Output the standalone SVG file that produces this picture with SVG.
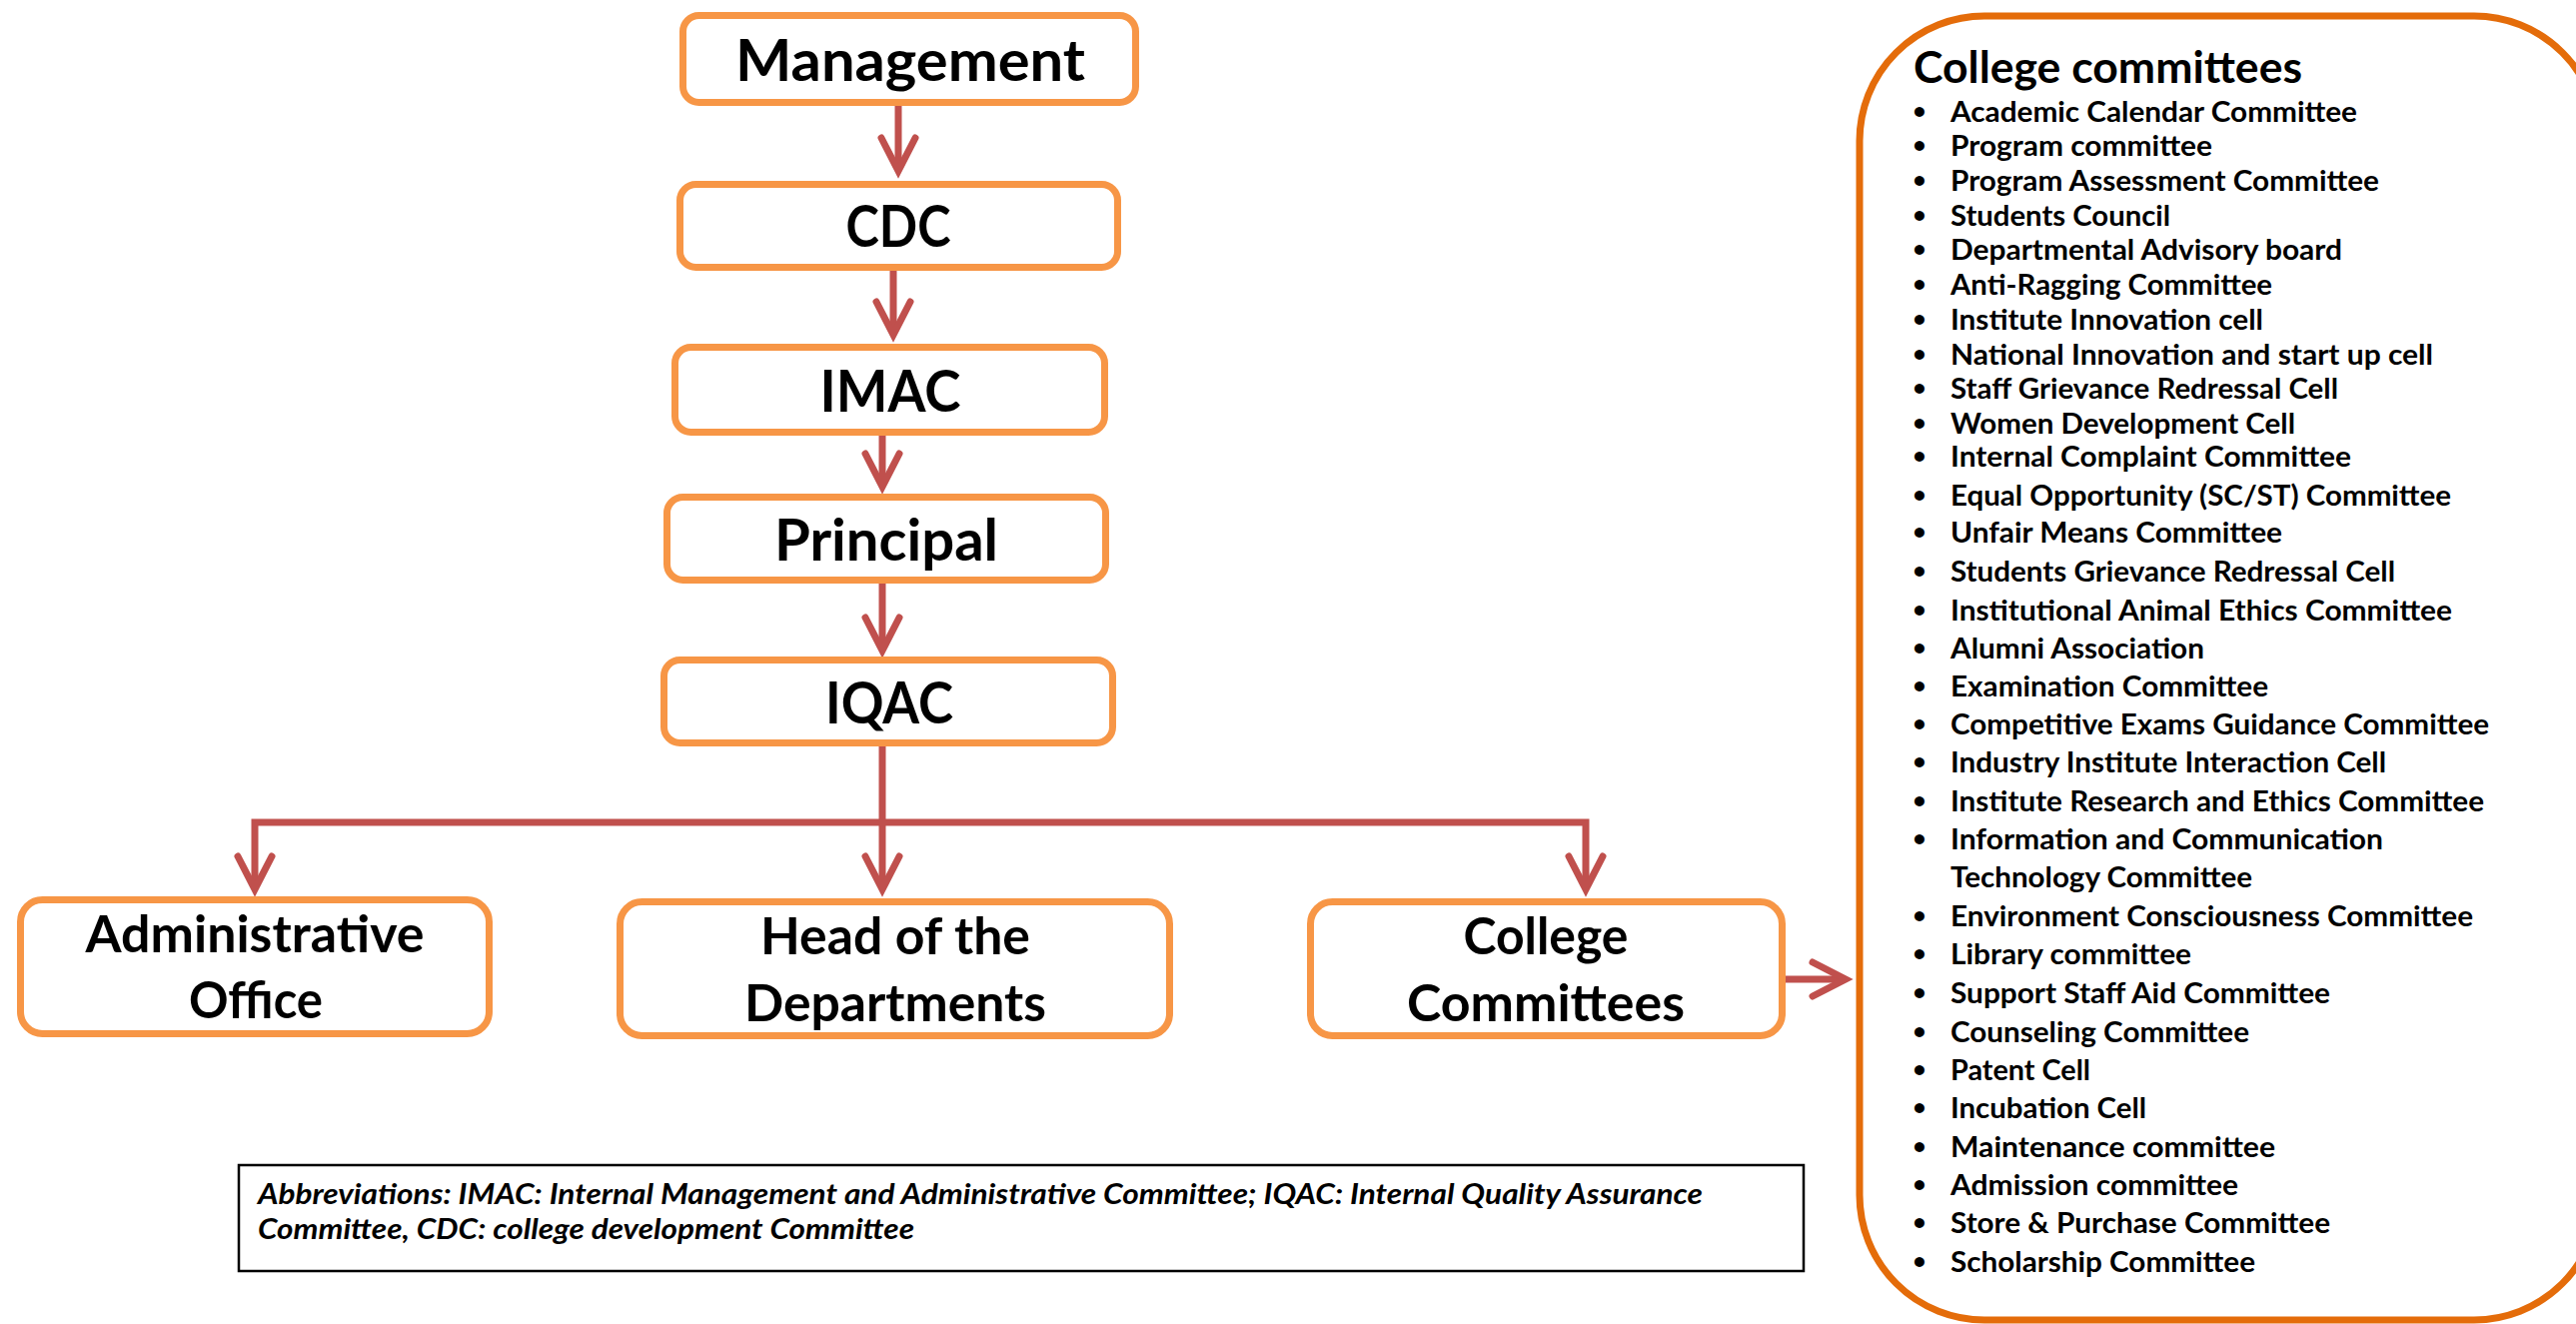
<svg xmlns="http://www.w3.org/2000/svg" width="2578" height="1325" viewBox="0 0 2578 1325">
<defs>
<style>
.node{fill:#fff;stroke:#F79646;stroke-width:7}
.t1{font-family:Lato,"Open Sans","Liberation Sans",sans-serif;font-weight:bold;font-size:57px;fill:#000;text-anchor:middle}
.t2{font-family:Lato,"Open Sans","Liberation Sans",sans-serif;font-weight:bold;font-size:51px;fill:#000;text-anchor:middle}
.conn{fill:none;stroke:#C0504D;stroke-width:7}
.ttl{font-family:Lato,"Open Sans","Liberation Sans",sans-serif;font-weight:bold;font-size:43px;fill:#000}
.li{font-family:Lato,"Open Sans","Liberation Sans",sans-serif;font-weight:bold;font-size:28px;fill:#000}
.bu{font-family:Lato,"Open Sans","Liberation Sans",sans-serif;font-weight:bold;font-size:23px;fill:#000;text-anchor:middle}
.ab{font-family:Lato,"Open Sans","Liberation Sans",sans-serif;font-weight:bold;font-style:italic;font-size:28px;fill:#000}
</style>
<marker id="ah" markerUnits="userSpaceOnUse" markerWidth="80" markerHeight="80" viewBox="-40 -40 80 80" refX="0" refY="0" orient="auto" overflow="visible">
<path d="M-33,-17 L0,0 L-33,17" fill="none" stroke="#C0504D" stroke-width="7" stroke-linecap="round" stroke-linejoin="miter"/>
</marker>
</defs>
<rect width="2578" height="1325" fill="#fff"/>

<g id="connectors">
<path class="conn" d="M899,106 V171" marker-end="url(#ah)"/>
<path class="conn" d="M894,271 V335" marker-end="url(#ah)"/>
<path class="conn" d="M883,436 V487" marker-end="url(#ah)"/>
<path class="conn" d="M883,584 V651" marker-end="url(#ah)"/>
<path class="conn" d="M883,747 V823"/>
<path class="conn" d="M883,823 H255 V890" marker-end="url(#ah)"/>
<path class="conn" d="M883,823 V890" marker-end="url(#ah)"/>
<path class="conn" d="M883,823 H1587 V890" marker-end="url(#ah)"/>
<path class="conn" d="M1787,980 H1847" marker-end="url(#ah)"/>
</g>

<g id="management">
<rect class="node" x="683.5" y="15.5" width="453" height="87" rx="16"/>
<text class="t1" x="911" y="81" textLength="350" lengthAdjust="spacingAndGlyphs">Management</text>
</g>
<g id="cdc">
<rect class="node" x="680.5" y="184.5" width="438" height="83" rx="16"/>
<text class="t1" x="899" y="247" textLength="105" lengthAdjust="spacingAndGlyphs">CDC</text>
</g>
<g id="imac">
<rect class="node" x="675.5" y="347.5" width="430" height="85" rx="16"/>
<text class="t1" x="891" y="412" textLength="141" lengthAdjust="spacingAndGlyphs">IMAC</text>
</g>
<g id="principal">
<rect class="node" x="667.5" y="497.5" width="439" height="83" rx="16"/>
<text class="t1" x="887" y="561" textLength="224" lengthAdjust="spacingAndGlyphs">Principal</text>
</g>
<g id="iqac">
<rect class="node" x="664.5" y="660.5" width="449" height="83" rx="16"/>
<text class="t1" x="890" y="724" textLength="128" lengthAdjust="spacingAndGlyphs">IQAC</text>
</g>
<g id="administrative-office">
<rect class="node" x="20.5" y="900.5" width="469" height="134" rx="22"/>
<text class="t2" x="255" y="953" textLength="339" lengthAdjust="spacingAndGlyphs">Administrative</text>
<text class="t2" x="256" y="1019" textLength="134" lengthAdjust="spacingAndGlyphs">Office</text>
</g>
<g id="head-of-departments">
<rect class="node" x="620.5" y="902.5" width="550" height="134" rx="22"/>
<text class="t2" x="896" y="955" textLength="270" lengthAdjust="spacingAndGlyphs">Head of the</text>
<text class="t2" x="896" y="1022" textLength="302" lengthAdjust="spacingAndGlyphs">Departments</text>
</g>
<g id="college-committees-node">
<rect class="node" x="1311.5" y="902.5" width="472" height="134" rx="22"/>
<text class="t2" x="1547" y="955" textLength="165" lengthAdjust="spacingAndGlyphs">College</text>
<text class="t2" x="1547" y="1022" textLength="278" lengthAdjust="spacingAndGlyphs">Committees</text>
</g>

<g id="abbreviations">
<rect x="239" y="1166" width="1566" height="106" fill="#fff" stroke="#000" stroke-width="2.5"/>
<text class="ab" x="258" y="1205" textLength="1446" lengthAdjust="spacingAndGlyphs">Abbreviations: IMAC: Internal Management and Administrative Committee; IQAC: Internal Quality Assurance</text>
<text class="ab" x="258" y="1240" textLength="657" lengthAdjust="spacingAndGlyphs">Committee, CDC: college development Committee</text>
</g>

<g id="college-committees-list">
<rect x="1861" y="16" width="740" height="1305" rx="125" fill="#fff" stroke="#E46C0A" stroke-width="7"/>
<text class="ttl" x="1915" y="83" textLength="389" lengthAdjust="spacingAndGlyphs">College committees</text>
<g class="bu" transform="translate(0,-3)">
<text x="1921" y="122">•</text><text x="1921" y="156">•</text><text x="1921" y="191">•</text><text x="1921" y="226">•</text>
<text x="1921" y="260">•</text><text x="1921" y="295">•</text><text x="1921" y="330">•</text><text x="1921" y="365">•</text>
<text x="1921" y="399">•</text><text x="1921" y="434">•</text><text x="1921" y="467">•</text><text x="1921" y="506">•</text>
<text x="1921" y="543">•</text><text x="1921" y="582">•</text><text x="1921" y="621">•</text><text x="1921" y="659">•</text>
<text x="1921" y="697">•</text><text x="1921" y="735">•</text><text x="1921" y="773">•</text><text x="1921" y="812">•</text>
<text x="1921" y="850">•</text><text x="1921" y="927">•</text><text x="1921" y="965">•</text><text x="1921" y="1004">•</text>
<text x="1921" y="1043">•</text><text x="1921" y="1081">•</text><text x="1921" y="1119">•</text><text x="1921" y="1158">•</text>
<text x="1921" y="1196">•</text><text x="1921" y="1234">•</text><text x="1921" y="1273">•</text>
</g>
<g class="li">
<text x="1952" y="122" textLength="407" lengthAdjust="spacingAndGlyphs">Academic Calendar Committee</text>
<text x="1952" y="156" textLength="262" lengthAdjust="spacingAndGlyphs">Program committee</text>
<text x="1952" y="191" textLength="429" lengthAdjust="spacingAndGlyphs">Program Assessment Committee</text>
<text x="1952" y="226" textLength="220" lengthAdjust="spacingAndGlyphs">Students Council</text>
<text x="1952" y="260" textLength="392" lengthAdjust="spacingAndGlyphs">Departmental Advisory board</text>
<text x="1952" y="295" textLength="322" lengthAdjust="spacingAndGlyphs">Anti-Ragging Committee</text>
<text x="1952" y="330" textLength="313" lengthAdjust="spacingAndGlyphs">Institute Innovation cell</text>
<text x="1952" y="365" textLength="483" lengthAdjust="spacingAndGlyphs">National Innovation and start up cell</text>
<text x="1952" y="399" textLength="388" lengthAdjust="spacingAndGlyphs">Staff Grievance Redressal Cell</text>
<text x="1952" y="434" textLength="345" lengthAdjust="spacingAndGlyphs">Women Development Cell</text>
<text x="1952" y="467" textLength="401" lengthAdjust="spacingAndGlyphs">Internal Complaint Committee</text>
<text x="1952" y="506" textLength="501" lengthAdjust="spacingAndGlyphs">Equal Opportunity (SC/ST) Committee</text>
<text x="1952" y="543" textLength="332" lengthAdjust="spacingAndGlyphs">Unfair Means Committee</text>
<text x="1952" y="582" textLength="445" lengthAdjust="spacingAndGlyphs">Students Grievance Redressal Cell</text>
<text x="1952" y="621" textLength="502" lengthAdjust="spacingAndGlyphs">Institutional Animal Ethics Committee</text>
<text x="1952" y="659" textLength="254" lengthAdjust="spacingAndGlyphs">Alumni Association</text>
<text x="1952" y="697" textLength="318" lengthAdjust="spacingAndGlyphs">Examination Committee</text>
<text x="1952" y="735" textLength="539" lengthAdjust="spacingAndGlyphs">Competitive Exams Guidance Committee</text>
<text x="1952" y="773" textLength="436" lengthAdjust="spacingAndGlyphs">Industry Institute Interaction Cell</text>
<text x="1952" y="812" textLength="534" lengthAdjust="spacingAndGlyphs">Institute Research and Ethics Committee</text>
<text x="1952" y="850" textLength="433" lengthAdjust="spacingAndGlyphs">Information and Communication</text>
<text x="1952" y="888" textLength="302" lengthAdjust="spacingAndGlyphs">Technology Committee</text>
<text x="1952" y="927" textLength="523" lengthAdjust="spacingAndGlyphs">Environment Consciousness Committee</text>
<text x="1952" y="965" textLength="241" lengthAdjust="spacingAndGlyphs">Library committee</text>
<text x="1952" y="1004" textLength="380" lengthAdjust="spacingAndGlyphs">Support Staff Aid Committee</text>
<text x="1952" y="1043" textLength="299" lengthAdjust="spacingAndGlyphs">Counseling Committee</text>
<text x="1952" y="1081" textLength="140" lengthAdjust="spacingAndGlyphs">Patent Cell</text>
<text x="1952" y="1119" textLength="196" lengthAdjust="spacingAndGlyphs">Incubation Cell</text>
<text x="1952" y="1158" textLength="325" lengthAdjust="spacingAndGlyphs">Maintenance committee</text>
<text x="1952" y="1196" textLength="288" lengthAdjust="spacingAndGlyphs">Admission committee</text>
<text x="1952" y="1234" textLength="380" lengthAdjust="spacingAndGlyphs">Store &amp; Purchase Committee</text>
<text x="1952" y="1273" textLength="305" lengthAdjust="spacingAndGlyphs">Scholarship Committee</text>
</g>
</g>
</svg>
